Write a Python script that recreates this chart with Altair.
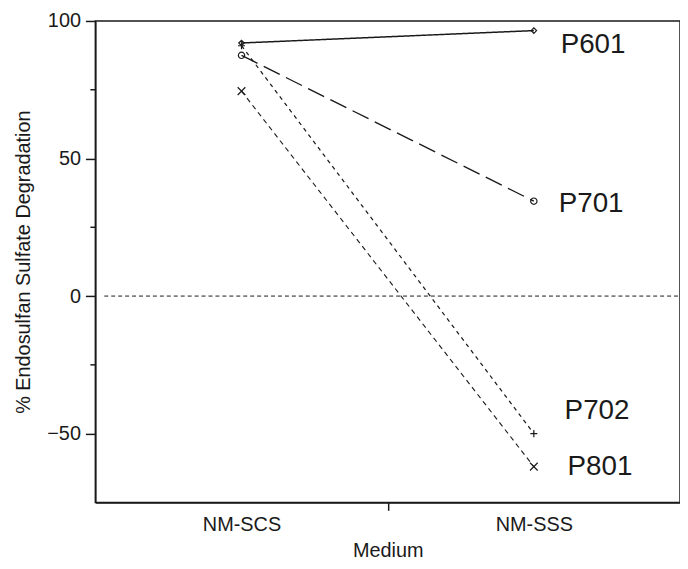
import altair as alt
import pandas as pd

# ---- data ----
series = ["P601", "P701", "P702", "P801"]
media = ["NM-SCS", "NM-SSS"]
media_pos = [1, 2]
nm_scs = [92.0, 87.5, 91.0, 74.5]
nm_sss = [96.5, 34.5, -50.0, -62.0]

y_major = [-50, 0, 50, 100]
y_minor = [-25, 25, 75]
x_ticks = [1, 1.5, 2]

# ---- styles ----
FONT = "Liberation Sans"
INK = "#1a1a1a"
dashes = [[1, 0], [18, 7], [4, 4], [5, 4]]
shapes = ["diamond", "circle", "M-1,0L1,0M0,-1L0,1", "M-1,-1L1,1M-1,1L1,-1"]
sizes = [30, 60, 110, 130]
widths = [1.5, 1.1, 1.1, 1.1]
label_offsets = {"P601": (27, 15), "P701": (25, 3), "P702": (31, -23), "P801": (34, 0)}

W, H = 589, 485

rows = []
for s, a, b in zip(series, nm_scs, nm_sss):
    rows.append({"series": s, "medium": media[0], "x": media_pos[0], "value": a})
    rows.append({"series": s, "medium": media[1], "x": media_pos[1], "value": b})
df = pd.DataFrame(rows)

x_scale = alt.Scale(domain=[0.5, 2.5], nice=False, zero=False)
y_scale = alt.Scale(domain=[-75, 100], nice=False, zero=False)

x_enc = alt.X(
    "x:Q",
    scale=x_scale,
    axis=alt.Axis(
        title="Medium",
        values=x_ticks,
        labelExpr="datum.value == 1 ? 'NM-SCS' : (datum.value == 2 ? 'NM-SSS' : '')",
        grid=False,
        tickSize=8,
        tickOpacity={"condition": {"test": "datum.value == 1.5", "value": 1}, "value": 0},
        labelPadding=4,
        titlePadding=7,
    ),
)
y_enc = alt.Y(
    "value:Q",
    scale=y_scale,
    axis=alt.Axis(
        title="% Endosulfan Sulfate Degradation",
        values=y_major,
        grid=False,
        tickSize=10,
        labelPadding=5,
        titlePadding=13,
    ),
)

lines = alt.Chart(df).mark_line(color=INK).encode(
    x=x_enc,
    y=y_enc,
    detail="series:N",
    strokeDash=alt.StrokeDash("series:N", scale=alt.Scale(domain=series, range=dashes), legend=None),
    strokeWidth=alt.StrokeWidth("series:N", scale=alt.Scale(domain=series, range=widths), legend=None),
)

points = alt.Chart(df).mark_point(filled=False, color=INK, strokeWidth=1.2, opacity=1).encode(
    x="x:Q",
    y="value:Q",
    shape=alt.Shape("series:N", scale=alt.Scale(domain=series, range=shapes), legend=None),
    size=alt.Size("series:N", scale=alt.Scale(domain=series, range=sizes), legend=None),
)

zero_df = pd.DataFrame({"value": [0]})
zero_line = alt.Chart(zero_df).mark_rule(color=INK, strokeDash=[4, 3], strokeWidth=1).encode(
    y="value:Q", x=alt.value(9), x2=alt.value(W)
)

minor_df = pd.DataFrame({"value": y_minor})
minor_ticks = alt.Chart(minor_df).mark_rule(color=INK, strokeWidth=1.5, clip=False).encode(
    y="value:Q", x=alt.value(-5), x2=alt.value(0)
)

end_df = df[df["medium"] == media[1]]
label_layers = []
for s in series:
    dx, dy = label_offsets[s]
    label_layers.append(
        alt.Chart(end_df[end_df["series"] == s]).mark_text(
            align="left", baseline="middle", dx=dx, dy=dy,
            font=FONT, fontSize=28, color=INK,
        ).encode(x="x:Q", y="value:Q", text="series:N")
    )

chart = alt.layer(zero_line, lines, points, minor_ticks, *label_layers).properties(
    width=W,
    height=H,
    autosize=alt.AutoSizeParams(type="none"),
    padding={"left": 88, "top": 11, "right": 0, "bottom": 60},
).configure_view(
    stroke=INK, strokeWidth=1.5
).configure_axis(
    domainColor=INK, domainWidth=1.5, tickColor=INK, tickWidth=1.5,
    labelFont=FONT, labelFontSize=20, labelColor=INK,
    titleFont=FONT, titleFontSize=20, titleColor=INK, titleFontWeight="normal",
)

chart.save("out.html", embed_options={"renderer": "svg", "actions": False})
